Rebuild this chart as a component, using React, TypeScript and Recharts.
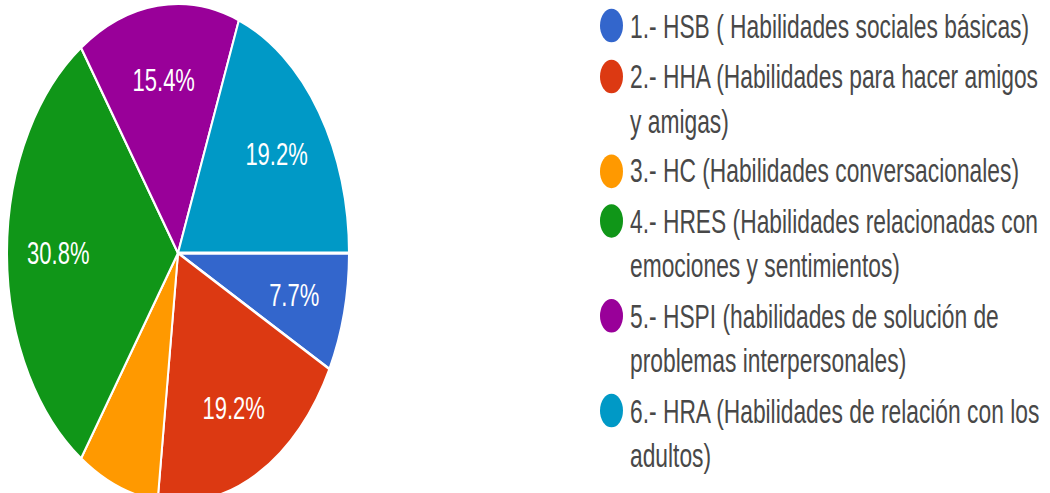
import React from "react";
import { PieChart, Pie, Cell, Legend } from "recharts";

const categories = [
  "1.- HSB ( Habilidades sociales básicas)",
  "2.- HHA (Habilidades para hacer amigos y amigas)",
  "3.- HC (Habilidades conversacionales)",
  "4.- HRES (Habilidades relacionadas con emociones y sentimientos)",
  "5.- HSPI (habilidades de solución de problemas interpersonales)",
  "6.- HRA (Habilidades de relación con los adultos)",
];
const values = [7.7, 19.2, 7.7, 30.8, 15.4, 19.2];
const sliceLabels = ["7.7%", "19.2%", "", "30.8%", "15.4%", "19.2%"];
const legendLines = [
  ["1.- HSB ( Habilidades sociales básicas)"],
  ["2.- HHA (Habilidades para hacer amigos", "y amigas)"],
  ["3.- HC (Habilidades conversacionales)"],
  ["4.- HRES (Habilidades relacionadas con", "emociones y sentimientos)"],
  ["5.- HSPI (habilidades de solución de", "problemas interpersonales)"],
  ["6.- HRA (Habilidades de relación con los", "adultos)"],
];
const colors = ["#3366cc", "#dc3912", "#ff9900", "#109618", "#990099", "#0099c6"];

const data = categories.map((name, i) => ({ name, value: values[i], label: sliceLabels[i] }));

const W = 1050;
const PAGE_H = 493;
const H = 338;
const SCALE = PAGE_H / H;
const FONT = "'Liberation Sans', Arial, sans-serif";

const RADIAN = Math.PI / 180;

const renderLabel = (props: any) => {
  const { cx, cy, midAngle, outerRadius, index } = props;
  const text = data[index].label;
  if (!text) return null;
  const r = outerRadius * 0.7;
  const x = cx + r * Math.cos(-midAngle * RADIAN);
  const y = cy + r * Math.sin(-midAngle * RADIAN);
  return (
    <text
      x={x}
      y={y}
      fill="#ffffff"
      textAnchor="middle"
      dominantBaseline="central"
      fontSize={22}
      fontFamily={FONT}
    >
      {text}
    </text>
  );
};

const LINE_H = 30.5;
const ENTRY_GAP = 4;
const FIRST_Y = 17.8;

const renderLegend = () => {
  const items: React.ReactNode[] = [];
  let y = FIRST_Y;
  legendLines.forEach((lines, i) => {
    items.push(
      <div
        key={"m" + i}
        style={{
          position: "absolute",
          left: 600,
          top: y - 11.5,
          width: 23,
          height: 23,
          borderRadius: "50%",
          background: colors[i],
        }}
      />
    );
    lines.forEach((ln, j) => {
      items.push(
        <div
          key={"t" + i + "-" + j}
          style={{
            position: "absolute",
            left: 630,
            top: y - 15,
            height: 30,
            lineHeight: "30px",
            fontSize: 22.8,
            fontFamily: FONT,
            color: "#484848",
            whiteSpace: "nowrap",
          }}
        >
          {ln}
        </div>
      );
      y += LINE_H;
    });
    y += ENTRY_GAP;
  });
  return <div style={{ position: "relative", width: W, height: H }}>{items}</div>;
};

export default function App() {
  return (
    <div
      style={{
        position: "absolute",
        left: 0,
        top: 0,
        width: W,
        height: H,
        transform: `scaleY(${SCALE})`,
        transformOrigin: "0 0",
        background: "#ffffff",
      }}
    >
      <PieChart width={W} height={H} margin={{ top: 0, right: 0, bottom: 0, left: 0 }}>
        <Pie
          data={data}
          dataKey="value"
          nameKey="name"
          cx={178}
          cy={173.5}
          outerRadius={171}
          startAngle={0}
          endAngle={-360}
          stroke="#ffffff"
          strokeWidth={2}
          label={renderLabel}
          labelLine={false}
          isAnimationActive={false}
        >
          {data.map((d, i) => (
            <Cell key={d.name} fill={colors[i]} />
          ))}
        </Pie>
        <Legend
          content={renderLegend}
          wrapperStyle={{ position: "absolute", left: 0, top: 0, width: W, height: H }}
        />
      </PieChart>
    </div>
  );
}
